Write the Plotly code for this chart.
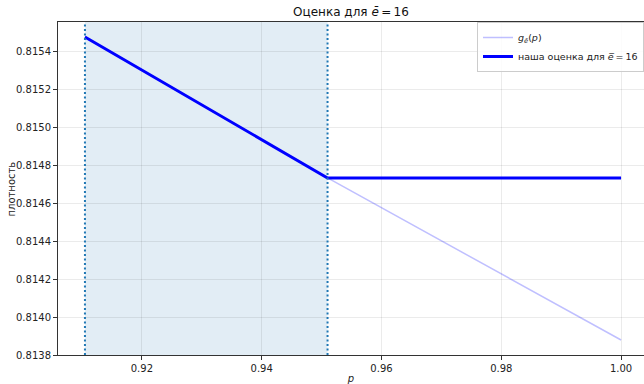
import plotly.graph_objects as go

# g_e(p) curve samples
p_g = [0.9105, 0.951, 1.0]
g_vals = [0.815474, 0.814732, 0.813879]

# our estimate for e = 16
p_est = [0.9105, 0.951, 1.0]
est_vals = [0.815474, 0.814732, 0.814732]

# shaded interval bounds
span_lo = 0.9105
span_hi = 0.951

x_ticks = [0.92, 0.94, 0.96, 0.98, 1.00]
x_tick_text = ["0.92", "0.94", "0.96", "0.98", "1.00"]
y_ticks = [0.8138, 0.8140, 0.8142, 0.8144, 0.8146, 0.8148, 0.8150, 0.8152, 0.8154]
y_tick_text = ["%.4f" % v for v in y_ticks]

FONT = "DejaVu Sans"
THIN = "\u2009"

fig = go.Figure()

fig.add_trace(go.Scatter(
    x=p_g, y=g_vals, mode="lines",
    line=dict(color="rgba(0,0,255,0.25)", width=1.5),
    name="<i>g</i><sub><i>ē</i></sub>(<i>p</i>)",
))
fig.add_trace(go.Scatter(
    x=p_est, y=est_vals, mode="lines",
    line=dict(color="#0000ff", width=3),
    name="наша оценка для <i>e̅</i>" + THIN + "=" + THIN + "16",
))

fig.add_shape(type="rect", xref="x", yref="paper", x0=span_lo, x1=span_hi, y0=0, y1=1,
              fillcolor="rgba(31,119,180,0.13)", line=dict(width=0), layer="below")
for xv in (span_lo, span_hi):
    fig.add_shape(type="line", xref="x", yref="paper", x0=xv, x1=xv, y0=0, y1=1,
                  line=dict(color="#1f77b4", width=2, dash="2px,2.5px"))

# y-axis title placed as an annotation
fig.add_annotation(text="плотность", xref="paper", yref="paper", x=-0.0785, y=0.5,
                   xanchor="center", yanchor="middle", textangle=-90, showarrow=False,
                   font=dict(size=10, color="#222222"))

fig.update_layout(
    width=644, height=384,
    margin=dict(l=58, r=0, t=22, b=29),
    paper_bgcolor="white", plot_bgcolor="white",
    font=dict(family=FONT, size=10, color="#222222"),
    title=dict(text="Оценка для <i>ē</i>" + THIN + "=" + THIN + "16", x=0.5, xref="paper",
               xanchor="center", y=1 - 12 / 384, yanchor="middle",
               font=dict(size=12, color="#111111")),
    showlegend=True,
    legend=dict(x=1.0, y=1.0, xanchor="right", yanchor="top",
                bgcolor="rgba(255,255,255,0.85)", bordercolor="#cccccc", borderwidth=1,
                font=dict(size=9.5), tracegroupgap=0, itemwidth=30),
)

fig.update_xaxes(
    range=[0.906, 1.00383], tickvals=x_ticks, ticktext=x_tick_text,
    showgrid=True, gridcolor="rgba(0,0,0,0.08)", gridwidth=1,
    showline=True, linecolor="#333333", linewidth=1, mirror=True,
    ticks="outside", ticklen=4, tickcolor="#333333", zeroline=False,
    title=dict(text="<i>p</i>", font=dict(size=10), standoff=2),
)
fig.update_yaxes(
    range=[0.8138, 0.815553], tickvals=y_ticks, ticktext=y_tick_text,
    showgrid=True, gridcolor="rgba(0,0,0,0.08)", gridwidth=1,
    showline=True, linecolor="#333333", linewidth=1,
    ticks="outside", ticklen=4, tickcolor="#333333", zeroline=False,
)

fig.write_html("out.html")
